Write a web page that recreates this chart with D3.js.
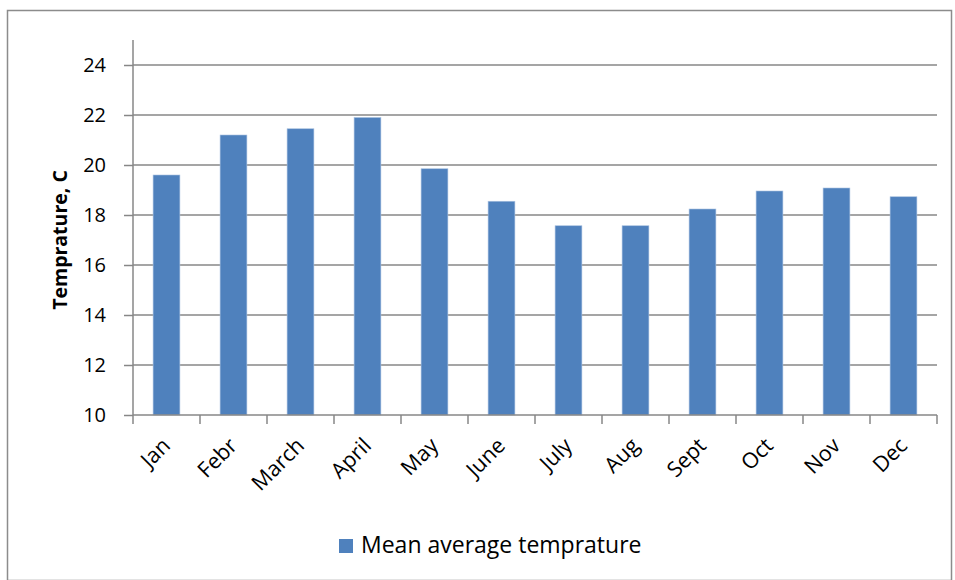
<!DOCTYPE html>
<html><head><meta charset="utf-8">
<script src="https://cdn.jsdelivr.net/npm/d3@7"></script>
<style>body{margin:0;background:#fff;} svg{display:block;} text{font-family:"Open Sans",sans-serif;fill:#000;}</style>
</head><body>
<svg id="c" width="955" height="580"></svg>
<script>
const categories = ["Jan","Febr","March","April","May","June","July","Aug","Sept","Oct","Nov","Dec"];
const values = [19.6,21.2,21.45,21.9,19.85,18.55,17.57,17.57,18.24,18.96,19.08,18.73];
const yTicks = [10,12,14,16,18,20,22,24];
const seriesName = "Mean average temprature";
const yTitle = "Temprature, C";

const svg = d3.select("#c");
svg.append("rect").attr("x",7.5).attr("y",10.5).attr("width",944).attr("height",570)
  .attr("fill","#fff").attr("stroke","#8c8c8c").attr("stroke-width",1.5);

const pLeft=133, pRight=937, pTop=40, pBottom=415;
const x = d3.scaleBand().domain(categories).range([pLeft,pRight]).paddingInner(0.6).paddingOuter(0.3);
const y = d3.scaleLinear().domain([10,25]).range([pBottom,pBottom-15*25]);

// gridlines
svg.append("g").selectAll("line").data(yTicks.filter(t=>t>10)).join("line")
  .attr("x1",pLeft).attr("x2",pRight).attr("y1",d=>y(d)).attr("y2",d=>y(d))
  .attr("stroke","#878787").attr("stroke-width",1.5);

// bars
svg.append("g").selectAll("rect").data(values).join("rect")
  .attr("x",(d,i)=>x(categories[i])).attr("width",x.bandwidth())
  .attr("y",d=>y(d)).attr("height",d=>pBottom-y(d))
  .attr("fill","#4F81BD").attr("stroke","#a9c1e0").attr("stroke-width",0.6);

// y axis
const ya = svg.append("g").attr("transform",`translate(${pLeft},0)`)
  .call(d3.axisLeft(y).tickValues(yTicks).tickSize(9).tickPadding(18).tickFormat(d3.format("d")));
ya.select(".domain").attr("d",`M0,${pTop}V${pBottom}`).attr("stroke","#878787").attr("stroke-width",1.5);
ya.selectAll(".tick line").attr("stroke","#878787").attr("stroke-width",1.5);
ya.selectAll(".tick text").attr("font-size",20).attr("font-family","'Open Sans',sans-serif").attr("fill","#000");

// x axis
const xa = svg.append("g").attr("transform",`translate(0,${pBottom})`);
xa.append("line").attr("x1",pLeft).attr("x2",pRight).attr("y1",0).attr("y2",0).attr("stroke","#878787").attr("stroke-width",1.5);
const bounds = d3.range(categories.length+1).map(i=>pLeft+i*(pRight-pLeft)/categories.length);
xa.selectAll("line.tk").data(bounds).join("line").attr("class","tk")
  .attr("x1",d=>d).attr("x2",d=>d).attr("y1",0).attr("y2",9).attr("stroke","#878787").attr("stroke-width",1.5);
xa.selectAll("text").data(categories).join("text")
  .attr("transform",d=>`translate(${x(d)+x.bandwidth()/2+5},${32}) rotate(-45)`)
  .attr("text-anchor","end").attr("font-size",21.5).text(d=>d);

// y title
svg.append("text").attr("transform","translate(67,240) rotate(-90)").attr("text-anchor","middle")
  .attr("font-size",19.5).attr("font-weight","bold").text(yTitle);

// legend
svg.append("rect").attr("x",339).attr("y",539).attr("width",14).attr("height",14).attr("fill","#4F81BD");
svg.append("text").attr("x",361).attr("y",553).attr("font-size",23).text(seriesName);
</script>
</body></html>
